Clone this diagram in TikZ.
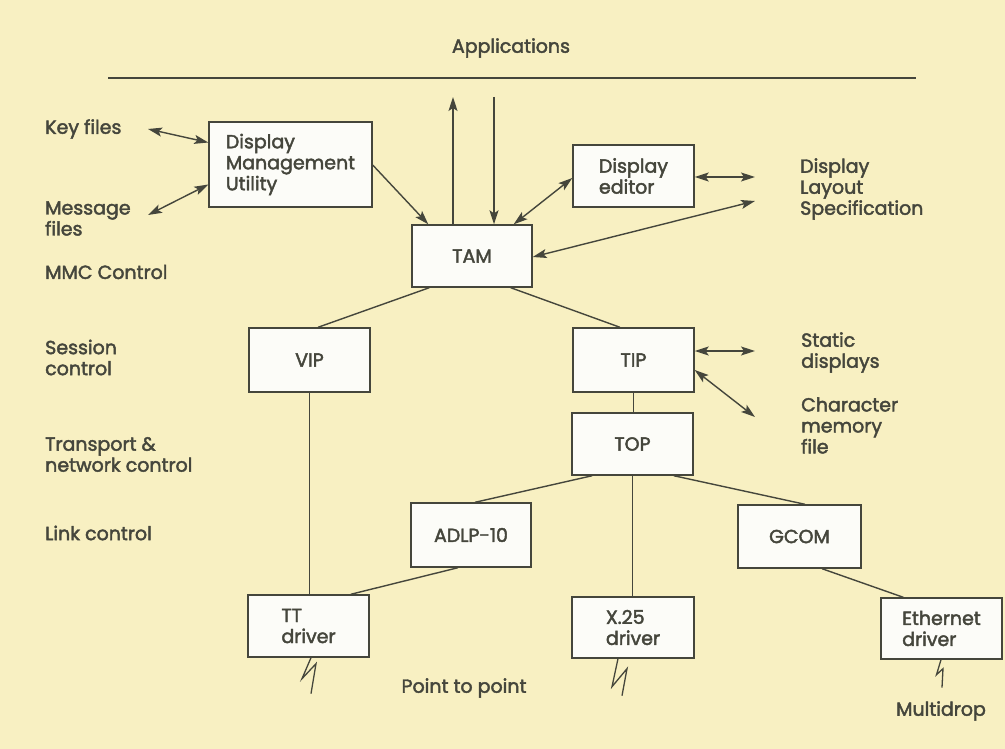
\documentclass[tikz,border=0pt]{standalone}
\usepackage{fontspec}
\setmainfont{Poppins}[FakeBold=2.2]
\usetikzlibrary{arrows.meta,calc}
\definecolor{bgc}{HTML}{F8F0C2}
\definecolor{ink}{HTML}{45463C}
\definecolor{boxfill}{HTML}{FCFCF8}
\begin{document}
\begin{tikzpicture}[x=1pt,y=-1pt,
  every node/.style={font=\fontsize{19}{21}\selectfont, text=ink},
  blk/.style={draw=ink, line width=1.4pt, fill=boxfill, inner sep=0pt, align=left},
  lbl/.style={anchor=west, inner sep=0pt, align=left},
  conn/.style={draw=ink, line width=1.4pt},
  arr/.style={conn, -{Stealth[length=14pt,width=9pt,inset=3pt]}},
  darr/.style={conn, {Stealth[length=14pt,width=9pt,inset=3pt]}-{Stealth[length=14pt,width=9pt,inset=3pt]}},
  bolt/.style={draw=ink, line width=1.3pt, line join=miter}]
\fill[bgc] (0,0) rectangle (1005,749);
\useasboundingbox (0,0) rectangle (1005,749);

% boxes
\node[blk, minimum width=163pt, minimum height=85pt] (dmu) at (290.5,164.5) {Display\\Management\\Utility};
\node[blk, minimum width=120pt, minimum height=62pt] (tam) at (472,256) {TAM};
\node[blk, minimum width=121pt, minimum height=62pt] (de) at (633.5,176) {Display\\editor};
\node[blk, minimum width=121pt, minimum height=64pt] (vip) at (309.5,360) {VIP};
\node[blk, minimum width=121pt, minimum height=64pt] (tip) at (633.5,360) {TIP};
\node[blk, minimum width=121pt, minimum height=62pt] (top) at (632.5,444) {TOP};
\node[blk, minimum width=120pt, minimum height=64pt] (adlp) at (471,535) {ADLP-10};
\node[blk, minimum width=123pt, minimum height=63pt] (gcom) at (799.5,536.5) {GCOM};
\node[blk, minimum width=121pt, minimum height=62pt] (tt) at (308.5,626) {TT\\driver};
\node[blk, minimum width=122pt, minimum height=61pt] (x25) at (633,627.5) {X.25\\driver};
\node[blk, minimum width=121pt, minimum height=61pt] (eth) at (941.5,628.5) {Ethernet\\driver};

% labels
\node[inner sep=0pt] (apps) at (511,48) {Applications};
\node[lbl] (key) at (45,129) {Key files};
\node[lbl] (msg) at (45,218.5) {Message\\files};
\node[lbl] (mmc) at (45,272) {MMC Control};
\node[lbl] (sess) at (45,357.5) {Session\\control};
\node[lbl] (trans) at (45,454.5) {Transport \&\\network control};
\node[lbl] (link) at (45,533) {Link control};
\node[lbl] (dls) at (800,189) {Display\\Layout\\Specification};
\node[lbl] (stat) at (801,352.5) {Static\\displays};
\node[lbl] (cmf) at (801,425.5) {Character\\memory\\file};
\node[inner sep=0pt] (p2p) at (464,688) {Point to point};
\node[inner sep=0pt] (multi) at (941,711) {Multidrop};

% free ends
\coordinate (appsL) at (108,78);
\coordinate (appsR) at (916,78);
\coordinate (upEnd) at (453,97);
\coordinate (downStart) at (494,97);
\coordinate (keyEnd) at (148,129);
\coordinate (msgEnd) at (148,215);
\coordinate (dlsA) at (755,177);
\coordinate (dlsB) at (755,201);
\coordinate (statEnd) at (755,351);
\coordinate (cmfEnd) at (755,417);

% applications line
\draw[conn] (appsL) -- (appsR);
\draw[arr] (upEnd |- tam.north) -- (upEnd);
\draw[arr] (downStart) -- (downStart |- tam.north);

% arrows
\draw[darr] (keyEnd) -- ([yshift=22pt]dmu.west);
\draw[darr] (msgEnd) -- ([yshift=-20pt]dmu.west);
\draw[arr] ([yshift=-0.5pt]dmu.east) -- ([xshift=17pt]tam.north west);
\draw[darr] ([xshift=-19pt]tam.north east) -- ([yshift=-2pt]de.west);
\draw[darr] ([yshift=-1pt]de.east) -- (dlsA);
\draw[darr] ([yshift=-1pt]tam.east) -- (dlsB);
\draw[darr] ([yshift=9pt]tip.east) -- (statEnd);
\draw[darr] ([yshift=-10pt]tip.east) -- (cmfEnd);

% tree lines
\draw[conn] ([xshift=18pt]tam.south west) -- ([xshift=8.5pt]vip.north);
\draw[conn] ([xshift=-22pt]tam.south east) -- ([xshift=-13.5pt]tip.north);
\draw[conn] (vip.south) -- (vip.south |- tt.north);
\draw[conn] (tip.south) -- (tip.south |- top.north);
\draw[conn] ([xshift=21pt]top.south west) -- ([xshift=4pt]adlp.north);
\draw[conn] (top.south) -- (top.south |- x25.north);
\draw[conn] ([xshift=-20pt]top.south east) -- ([xshift=5.5pt]gcom.north);
\draw[conn] ([xshift=-13pt]adlp.south) -- ([xshift=-19pt]tt.north east);
\draw[conn] ([xshift=22.5pt]gcom.south) -- ([xshift=23pt]eth.north west);

% lightning symbols
\draw[bolt] ([xshift=2.5pt]tt.south) -- ++(-9,21) -- ++(14,-15) -- ++(-5,30);
\draw[bolt] ([xshift=-15pt]x25.south) -- ++(-6,28) -- ++(15,-18) -- ++(-5,27);
\draw[bolt] ([xshift=-0.5pt]eth.south) -- ++(-4.5,15) -- ++(6.5,-6) -- ++(-1,19);
\end{tikzpicture}
\end{document}
